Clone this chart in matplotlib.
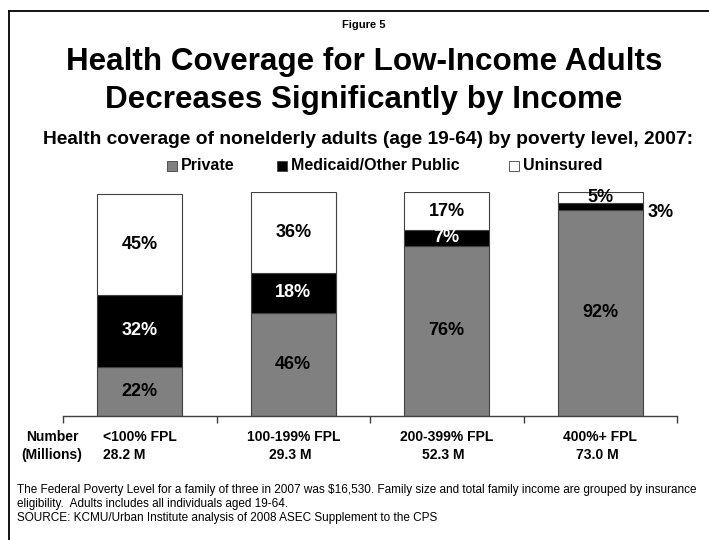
import matplotlib
matplotlib.use("Agg")
import matplotlib.pyplot as plt
from matplotlib.patches import Rectangle
from matplotlib.lines import Line2D
import numpy as np

plt.rcParams['font.family'] = ['Liberation Sans', 'DejaVu Sans']

# Cobertura por nivel de pobreza (porcentajes)
categorias = ['<100% FPL', '100-199% FPL', '200-399% FPL', '400%+ FPL']
poblacion = ['28.2 M', '29.3 M', '52.3 M', '73.0 M']
privado = [22, 46, 76, 92]
medicaid = [32, 18, 7, 3]
sin_seguro = [45, 36, 17, 5]

series = ['Private', 'Medicaid/Other Public', 'Uninsured']
colores = ['#808080', '#000000', '#ffffff']
colores_texto = ['black', 'white', 'black']

W, H = 709, 540
fig = plt.figure(figsize=(W / 100, H / 100), dpi=100)

def fy(py):
    return 1 - py / H

def fx(px):
    return px / W

# marco de la diapositiva (solo izquierda y arriba)
fig.add_artist(Line2D([fx(9), fx(9)], [fy(11), 0], color='black', lw=1.3))
fig.add_artist(Line2D([fx(9), 1], [fy(11), fy(11)], color='black', lw=1.3))

cx = fx(364)
fig.text(cx, fy(25), 'Figure 5', ha='center', va='center', fontsize=8, fontweight='bold')
fig.text(cx, fy(62), 'Health Coverage for Low-Income Adults', ha='center', va='center',
         fontsize=22.6, fontweight='bold')
fig.text(cx, fy(100), 'Decreases Significantly by Income', ha='center', va='center',
         fontsize=22.6, fontweight='bold')
fig.text(fx(43), fy(140), 'Health coverage of nonelderly adults (age 19-64) by poverty level, 2007:',
         ha='left', va='center', fontsize=13.8, fontweight='bold')

ax = fig.add_axes([fx(63), fy(416), fx(677) - fx(63), (416 - 192) / H])
x = np.arange(len(categorias))
ancho = 0.555
bottom = np.zeros(len(categorias))
for nombre, valores, color, ctexto in zip(series, [privado, medicaid, sin_seguro], colores, colores_texto):
    valores = np.array(valores, dtype=float)
    ax.bar(x, valores, ancho, bottom=bottom, color=color, edgecolor='#404040', linewidth=0.8,
           label=nombre)
    for i, v in enumerate(valores):
        centro = bottom[i] + v / 2
        if i == 3 and nombre == 'Medicaid/Other Public':
            ax.text(x[i] + 0.31, centro - 2.5, f'{int(v)}%', ha='left', va='center',
                    fontsize=13, fontweight='bold', color='black')
        else:
            ax.text(x[i], centro, f'{int(v)}%', ha='center', va='center',
                    fontsize=13, fontweight='bold', color=ctexto)
    bottom += valores

ax.set_xlim(-0.5, len(categorias) - 0.5)
ax.set_ylim(0, 100)
for s in ['top', 'right', 'left']:
    ax.spines[s].set_visible(False)
ax.spines['bottom'].set_color('#404040')
ax.spines['bottom'].set_linewidth(1.0)
ax.set_yticks([])
ax.set_xticks(np.arange(len(categorias) + 1) - 0.5)
ax.set_xticklabels([])
ax.tick_params(axis='x', direction='out', length=5, width=1.0, color='#404040')

# etiquetas de categoria debajo del eje
for i, (cat, pob) in enumerate(zip(categorias, poblacion)):
    ax.text(x[i], -9.5, cat, ha='center', va='center', fontsize=10, fontweight='bold')
    dx = -0.1 if i == 0 else -0.02
    ax.text(x[i] + dx, -17.5, pob, ha='center', va='center', fontsize=10, fontweight='bold')
fig.text(fx(52), fy(437), 'Number', ha='center', va='center', fontsize=10, fontweight='bold')
fig.text(fx(52), fy(455), '(Millions)', ha='center', va='center', fontsize=10, fontweight='bold')

# leyenda a mano: cuadrito + texto
pos_leyenda = [167, 277, 509]
lado = 10
for px, nombre, color in zip(pos_leyenda, series, colores):
    fig.add_artist(Rectangle((fx(px), fy(166 + lado / 2)), lado / W, lado / H,
                             facecolor=color, edgecolor='#404040', linewidth=0.6,
                             transform=fig.transFigure))
    fig.text(fx(px + lado + 4), fy(166), nombre, ha='left', va='center',
             fontsize=11.5, fontweight='bold')

notas = ('The Federal Poverty Level for a family of three in 2007 was $16,530. Family size and total family income are grouped by insurance\n'
         'eligibility.  Adults includes all individuals aged 19-64.\n'
         'SOURCE: KCMU/Urban Institute analysis of 2008 ASEC Supplement to the CPS')
fig.text(fx(17), fy(484), notas, ha='left', va='top', fontsize=8.47, linespacing=1.2)

fig.savefig('out.png', dpi=100)
